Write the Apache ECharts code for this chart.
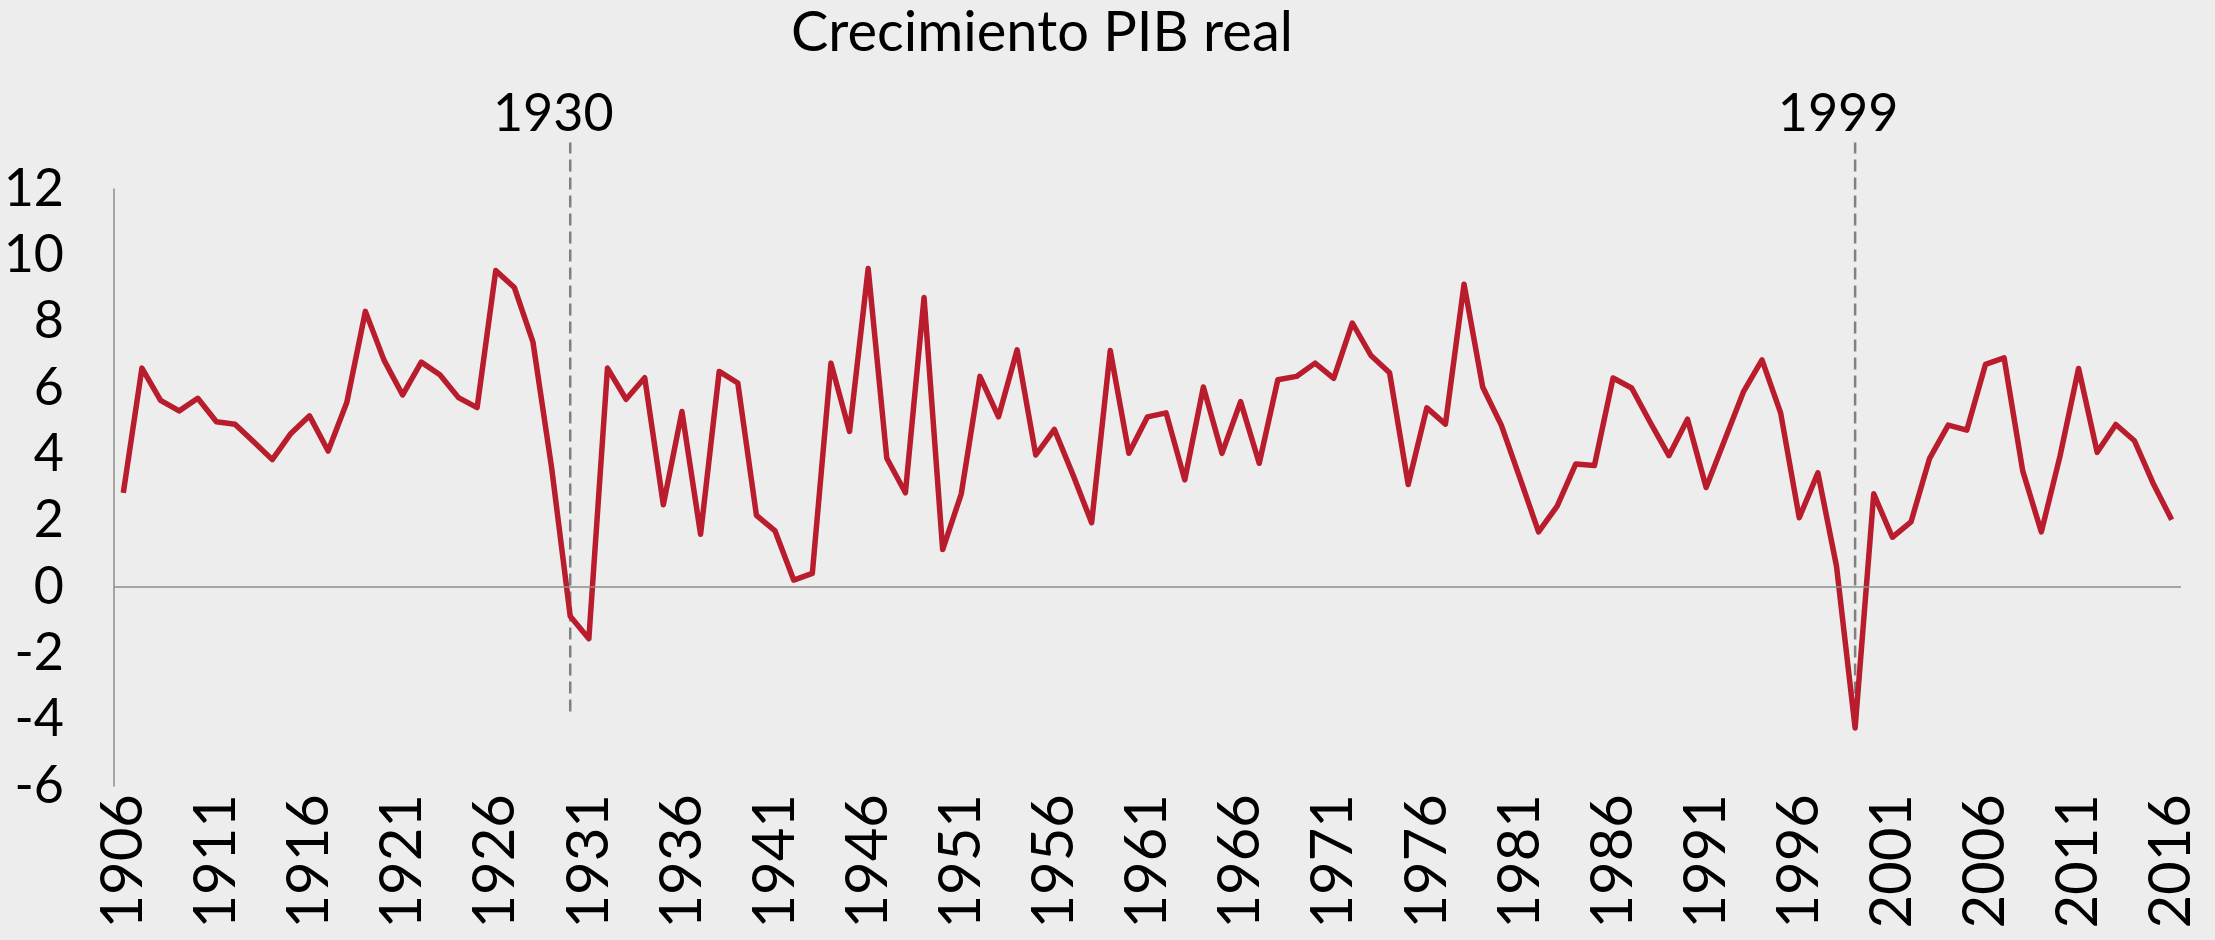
<!DOCTYPE html>
<html>
<head>
<meta charset="utf-8">
<script src="https://cdn.jsdelivr.net/npm/echarts@6/dist/echarts.min.js"></script>
<style>
  html, body { margin: 0; padding: 0; background: #ededed; }
  #main { width: 2215px; height: 940px; }
</style>
</head>
<body>
<div id="main"></div>
<script>
// años 1906-2016
const years = [];
for (let y = 1906; y <= 2016; y++) years.push(String(y));

// crecimiento PIB real (%)
const growth = [
  2.84, 6.6, 5.63, 5.31, 5.69, 4.98, 4.91, 4.38, 3.84, 4.63,
  5.16, 4.1, 5.56, 8.31, 6.84, 5.79, 6.78, 6.4, 5.71, 5.41,
  9.54, 9.03, 7.38, 3.6, -0.88, -1.56, 6.6, 5.66, 6.31, 2.48,
  5.29, 1.59, 6.5, 6.15, 2.16, 1.69, 0.21, 0.41, 6.75, 4.69,
  9.6, 3.88, 2.84, 8.73, 1.13, 2.81, 6.35, 5.13, 7.15, 3.98,
  4.75, 3.38, 1.94, 7.13, 4.03, 5.13, 5.25, 3.23, 6.03, 4.03,
  5.59, 3.73, 6.25, 6.35, 6.75, 6.29, 7.96, 6.98, 6.46, 3.09,
  5.4, 4.91, 9.13, 6.03, 4.88, 3.28, 1.66, 2.44, 3.71, 3.66,
  6.3, 6.0, 4.96, 3.96, 5.06, 3.0, 4.44, 5.88, 6.85, 5.25,
  2.09, 3.44, 0.63, -4.25, 2.81, 1.5, 1.96, 3.88, 4.88, 4.73,
  6.71, 6.91, 3.5, 1.66, 3.94, 6.59, 4.06, 4.9, 4.41, 3.13,
  2.03
];

// años marcados con línea discontinua
const markedYears = ['1930', '1999'];
const markBottom = -3.75;
const markTop = 13.4;

const yTicks = { min: -6, max: 12, interval: 2 };

const font = 'Lato, "Noto Sans", sans-serif';

const chart = echarts.init(document.getElementById('main'));

const markSeries = markedYears.map(function (yr) {
  return {
    type: 'line',
    data: [[yr, markBottom], [yr, markTop]],
    clip: false,
    symbol: 'circle',
    symbolSize: 0,
    showSymbol: true,
    silent: true,
    z: 1,
    lineStyle: { color: '#808080', width: 2.5, type: [12, 6] },
    label: {
      show: true,
      position: 'top',
      distance: 2,
      offset: [-17, 0],
      color: '#000',
      fontFamily: font,
      fontSize: 52,
      formatter: function (p) { return p.dataIndex === 1 ? yr : ''; }
    }
  };
});

const option = {
  backgroundColor: '#ededed',
  animation: false,
  title: {
    text: 'Crecimiento PIB real',
    left: 1037,
    top: 0,
    textAlign: 'center',
    textStyle: { color: '#000', fontSize: 56, fontWeight: 'normal', fontFamily: font }
  },
  grid: { left: 114, right: 34, top: 189, bottom: 154 },
  xAxis: {
    type: 'category',
    data: years,
    boundaryGap: true,
    axisLine: { show: false },
    axisTick: { show: false },
    axisLabel: {
      interval: 4,
      rotate: 90,
      margin: 8,
      color: '#000',
      fontSize: 58,
      fontFamily: font
    },
    splitLine: { show: false }
  },
  yAxis: {
    type: 'value',
    min: yTicks.min,
    max: yTicks.max,
    interval: yTicks.interval,
    axisLine: { show: true, lineStyle: { color: '#8c8c8c', width: 1.5 } },
    axisTick: { show: false },
    splitLine: { show: false },
    axisLabel: { margin: 50, color: '#000', fontSize: 52, fontFamily: font }
  },
  series: [
    {
      name: 'PIB',
      type: 'line',
      data: growth,
      symbol: 'none',
      z: 3,
      lineStyle: { color: '#b91c2c', width: 5.5, join: 'round' },
      markLine: {
        silent: true,
        symbol: 'none',
        label: { show: false },
        lineStyle: { color: '#8c8c8c', width: 1.5, type: 'solid' },
        data: [{ yAxis: 0 }]
      }
    }
  ].concat(markSeries)
};

chart.setOption(option);
</script>
</body>
</html>
